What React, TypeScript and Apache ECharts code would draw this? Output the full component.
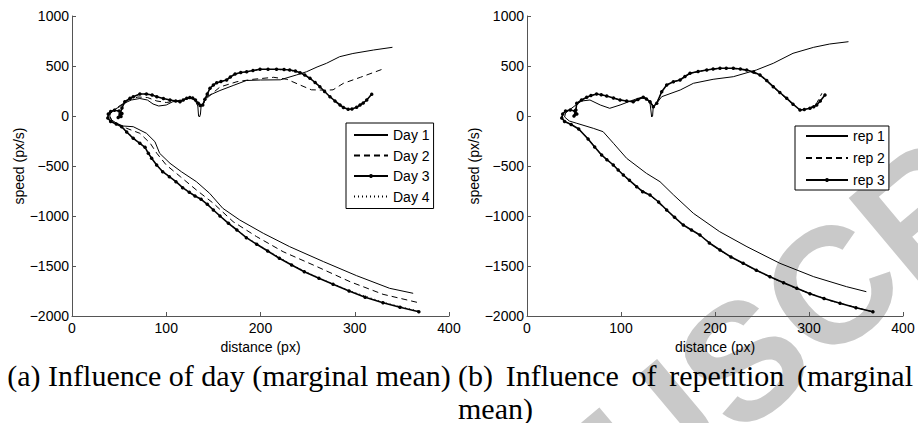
import React, { useEffect, useRef } from "react";
import * as echarts from "echarts";

// ---------- data (distance px, speed px/s) ----------
const xTicks = [0, 100, 200, 300, 400];
const yTicks = [-2000, -1500, -1000, -500, 0, 500, 1000];

const day1: number[][] = [
  [362, -1773], [337, -1723], [302, -1597], [267, -1457], [231, -1307], [203, -1173], [178, -1040],
  [160, -923], [146, -773], [132, -657], [116, -557], [104, -473], [93, -373], [88, -257], [79, -173],
  [65, -107], [54, -100], [47, -70], [42, -40], [40, 0], [41, 30], [44, 60], [50, 90], [56, 130],
  [63, 160], [72, 175], [80, 160], [86, 120], [92, 100], [100, 110], [107, 143], [115, 150], [122, 177],
  [127, 180], [131, 150], [133.5, 100], [134.3, 0], [135.3, -10], [136.3, 20], [137, 100], [139, 110],
  [141, 160], [144, 200], [157, 255], [171, 305], [185, 355], [200, 360], [221, 362], [238, 410],
  [249, 443], [260, 490], [270, 527], [284, 593], [298, 625], [320, 660], [340, 687],
];

const day2: number[][] = [
  [366, -1863], [330, -1783], [295, -1657], [260, -1507], [224, -1357], [196, -1207], [171, -1057],
  [150, -873], [132, -740], [115, -607], [100, -490], [90, -373], [83, -273], [72, -173], [58, -123],
  [48, -80], [42, -45], [40, 0], [41, 30], [45, 70], [52, 110], [60, 160], [70, 190], [80, 185],
  [90, 150], [100, 135], [110, 148], [122, 177], [127, 185], [131, 155], [134, 115], [138.7, 110],
  [141, 160], [150, 235], [157, 290], [175, 343], [192, 367], [214, 387], [228, 367], [242, 310],
  [254, 262], [270, 258], [277, 262], [288, 327], [306, 387], [330, 470],
];

const day3: number[][] = [
  [368, -1957], [348, -1913], [330, -1867], [311, -1813], [294, -1750], [277, -1683], [262, -1623],
  [246.5, -1557], [233, -1490], [220, -1423], [207.6, -1350], [196, -1283], [185, -1217], [175, -1140],
  [166, -1073], [157, -1000], [150, -940], [143.6, -883], [137, -833], [130.5, -800], [124.5, -763],
  [117.4, -717], [110.3, -657], [103.3, -607], [96.2, -557], [89.8, -490], [84.5, -423], [81, -373],
  [77.5, -313], [72, -273], [65, -223], [58, -160], [52.7, -107], [47, -80], [41, -55], [38, -20],
  [38.5, 20], [41, 45], [45, 58], [50, 50], [53, 25], [52, -5], [49, -15], [51, 20], [53, 80],
  [56, 143], [61.5, 177], [65, 193], [72, 220], [79, 220], [85, 210], [90, 193], [97, 175], [104, 160],
  [110, 150], [114.6, 143], [118, 160], [121.7, 177], [125, 185], [128, 180], [131, 160], [134, 127],
  [136, 105], [138.7, 110], [141, 167], [143.5, 220], [146.4, 277], [150, 310], [153.5, 333], [158, 345],
  [164, 360], [168, 390], [173, 420], [179, 435], [185.3, 443], [192, 455], [199.5, 467], [208, 468],
  [217, 467], [225, 465], [231, 460], [237, 450], [242, 433], [247, 410], [252.5, 377], [258, 335],
  [263, 293], [268, 245], [273.7, 193], [279, 150], [284.4, 110], [288, 85], [293, 67], [297, 70],
  [302, 87], [305.6, 110], [309, 130], [312.7, 160], [318, 217],
];

const day4: number[][] = [
  [367, -1950], [330, -1862], [294, -1745], [262, -1620], [233, -1486], [208, -1347], [185, -1214],
  [166, -1070], [150, -937], [137, -830], [124, -760], [110, -655], [96, -555], [84, -420], [77, -310],
  [65, -220], [53, -105], [41, -55], [38, -20], [39, 22], [45, 58], [50, 50], [53, 25], [51, 20],
  [56, 140], [65, 192], [72, 218], [79, 219], [90, 192], [104, 159], [114.6, 142], [121.7, 176],
  [128, 179], [134, 126], [138.7, 109], [146.4, 275], [153.5, 332], [164, 358], [173, 418], [185, 441],
  [199.5, 465], [217, 465], [231, 458], [242, 431], [252.5, 375], [263, 291], [273.7, 191], [284.4, 108],
  [293, 66], [302, 86], [312.7, 158], [317, 214],
];

const rep1: number[][] = [
  [361, -1757], [340, -1707], [305, -1607], [269, -1473], [234, -1307], [205, -1157], [177, -973],
  [156, -790], [141.5, -657], [127, -573], [106, -423], [92, -273], [81, -157], [70.5, -123], [53, -73],
  [45, -50], [40, -10], [41, 30], [45, 60], [52, 110], [58, 150], [67, 160], [78, 110], [88, 77],
  [99, 110], [113, 160], [123.7, 193], [128, 170], [131, 120], [132, 40], [132.6, -10], [133.6, 0],
  [134.2, 80], [136, 110], [139, 140], [143.3, 193], [163, 260], [177, 327], [198, 367], [219.5, 393],
  [244, 460], [262, 527], [283, 627], [305, 687], [322, 720], [342, 743],
];

const rep2: number[][] = [
  [369, -1962], [322, -1845], [287, -1727], [258.5, -1610], [230, -1477], [205, -1343], [184, -1193],
  [166, -1093], [148.6, -943], [131, -793], [116.7, -710], [102.5, -593], [92, -493], [79.4, -392],
  [72, -310], [65, -230], [55, -130], [47, -85], [40, -55], [37, -20], [38, 20], [41, 50], [46, 60],
  [51, 50], [53, 20], [50, 0], [52, 60], [53, 127], [63.5, 187], [74, 220], [85, 200], [99, 160],
  [113, 143], [123.7, 187], [131, 143], [134.4, 93], [138, 127], [143.3, 243], [148.6, 310],
  [155.7, 343], [162.8, 360], [173.4, 427], [191, 460], [205, 475], [219.5, 475], [233.7, 457],
  [248, 405], [262, 288], [276, 172], [290.4, 60], [301, 80], [308, 125], [313.7, 227],
];

const rep3: number[][] = [
  [368, -1957], [350, -1917], [333, -1872], [316, -1825], [301, -1777], [287, -1723], [273, -1667],
  [258.5, -1607], [244, -1543], [230, -1473], [217, -1410], [205.3, -1340], [194, -1270], [184, -1190],
  [175, -1140], [166.3, -1090], [157, -1013], [148.6, -940], [140, -860], [130.9, -790], [123, -757],
  [116.7, -707], [109, -643], [102.5, -590], [97, -540], [91.8, -490], [85, -437], [79.4, -390],
  [72, -310], [65, -230], [55, -130], [47, -85], [40, -55], [37, -20], [38, 20], [41, 50], [46, 60],
  [51, 50], [53, 20], [50, 0], [52, 60], [52.9, 127], [58, 160], [63.5, 187], [68, 205], [74, 220],
  [79, 212], [84.8, 200], [92, 180], [99, 160], [106, 150], [113, 143], [118, 165], [123.7, 187],
  [127, 170], [130.9, 143], [134.4, 93], [138, 127], [143.3, 243], [148.6, 310], [155.7, 343],
  [162.8, 360], [168, 395], [173.4, 427], [182, 445], [191.2, 460], [198, 470], [205.3, 477],
  [212, 478], [219.5, 477], [227, 470], [233.7, 460], [241, 440], [247.9, 410], [255, 355], [262, 293],
  [269, 235], [276.3, 177], [283, 118], [290.4, 60], [295, 65], [301, 77], [305, 92], [308.2, 110],
  [312, 150], [317, 210],
];

const dayNames = ["Day 1", "Day 2", "Day 3", "Day 4"];
const repNames = ["rep 1", "rep 2", "rep 3"];

const captionA = "(a) Influence of day (marginal mean)";
const captionBLine1 = ["(b)", "Influence", "of", "repetition", "(marginal"];
const captionBLine2 = "mean)";
const watermark = "MANUSCRIPT";

// ---------- styles ----------
const SANS = '"Liberation Sans", Arial, sans-serif';
const SERIF = '"Liberation Serif", "Times New Roman", serif';
const AXIS_COLOR = "#555";
const CAP_SIZE = 30;

function axisPair(gridIndex: number) {
  const common = {
    gridIndex,
    type: "value" as const,
    axisLine: { onZero: false, lineStyle: { color: AXIS_COLOR, width: 1 } },
    axisTick: { inside: true, length: 4, lineStyle: { color: AXIS_COLOR } },
    splitLine: { show: false },
    nameTextStyle: { fontSize: 14, color: "#000", fontFamily: SANS },
  };
  return {
    x: {
      ...common,
      min: xTicks[0],
      max: xTicks[xTicks.length - 1],
      interval: xTicks[1] - xTicks[0],
      name: "distance (px)",
      nameLocation: "middle",
      nameGap: 22,
      axisLabel: { color: "#000", fontSize: 14, fontFamily: SANS, margin: 5 },
    },
    y: {
      ...common,
      min: yTicks[0],
      max: yTicks[yTicks.length - 1],
      interval: yTicks[1] - yTicks[0],
      name: "speed (px/s)",
      nameLocation: "middle",
      nameGap: 46,
      axisLabel: {
        color: "#000",
        fontSize: 14,
        fontFamily: SANS,
        margin: 3,
        formatter: (v: number) => String(v).replace("-", "\u2212"),
      },
    },
  };
}

function measure(text: string, font: string): number {
  const c = document.createElement("canvas").getContext("2d");
  if (!c) return text.length * CAP_SIZE * 0.45;
  c.font = font;
  return c.measureText(text).width;
}

export default function App() {
  const ref = useRef<HTMLDivElement>(null);

  useEffect(() => {
    if (!ref.current) return;
    const chart = echarts.init(ref.current, undefined, { renderer: "svg" });
    const a0 = axisPair(0);
    const a1 = axisPair(1);

    const capFont = `${CAP_SIZE}px "Liberation Serif"`;
    // justified first line of caption (b)
    const bLeft = 458;
    const bRight = 913;
    const widths = captionBLine1.map((w) => measure(w, capFont));
    const total = widths.reduce((s, w) => s + w, 0);
    const gap = (bRight - bLeft - total) / (captionBLine1.length - 1);
    let cx = bLeft;
    const bWords = captionBLine1.map((w, i) => {
      const el = {
        type: "text",
        x: cx,
        y: 375,
        z: 10,
        style: { text: w, fontSize: CAP_SIZE, fontFamily: SERIF, fill: "#000", align: "left", verticalAlign: "middle" },
      };
      cx += widths[i] + gap;
      return el;
    });

    const thin = { color: "#000", width: 1 };
    const mkSeries = (name: string, data: number[][], gi: number, kind: string) => {
      const base: any = {
        name,
        type: "line",
        data,
        xAxisIndex: gi,
        yAxisIndex: gi,
        smooth: false,
        symbol: "none",
        itemStyle: { color: "#000" },
        lineStyle: { ...thin },
        emphasis: { disabled: true },
      };
      if (kind === "dashed") base.lineStyle.type = [6, 4];
      if (kind === "dotted") base.lineStyle.type = [1, 3];
      if (kind === "marker") {
        base.symbol = "circle";
        base.symbolSize = 3.5;
        base.showSymbol = true;
        base.lineStyle.width = 1.6;
      }
      return base;
    };

    const legendCommon = {
      orient: "vertical",
      selectedMode: false,
      borderColor: "#000",
      borderWidth: 1,
      backgroundColor: "#fff",
      itemHeight: 5,
      textStyle: { fontSize: 14, color: "#000", fontFamily: SANS },
    };
    const hideDot = { opacity: 0 };

    chart.setOption({
      animation: false,
      backgroundColor: "#fff",
      grid: [
        { left: 72, top: 16, width: 377, height: 300 },
        { left: 527, top: 16, width: 376, height: 300 },
      ],
      xAxis: [a0.x, a1.x],
      yAxis: [a0.y, a1.y],
      legend: [
        {
          ...legendCommon,
          left: 346,
          top: 123,
          padding: [5, 4, 5, 7],
          itemWidth: 34,
          itemGap: 6.5,
          data: [
            { name: dayNames[0], itemStyle: hideDot },
            { name: dayNames[1], itemStyle: hideDot },
            { name: dayNames[2] },
            { name: dayNames[3], itemStyle: hideDot },
          ],
        },
        {
          ...legendCommon,
          left: 795,
          top: 126,
          padding: [3, 4, 3, 10],
          itemWidth: 42,
          itemGap: 8,
          data: [
            { name: repNames[0], itemStyle: hideDot },
            { name: repNames[1], itemStyle: hideDot },
            { name: repNames[2] },
          ],
        },
      ],
      series: [
        mkSeries(dayNames[0], day1, 0, "solid"),
        mkSeries(dayNames[1], day2, 0, "dashed"),
        mkSeries(dayNames[3], day4, 0, "dotted"),
        mkSeries(dayNames[2], day3, 0, "marker"),
        mkSeries(repNames[0], rep1, 1, "solid"),
        mkSeries(repNames[1], rep2, 1, "dashed"),
        mkSeries(repNames[2], rep3, 1, "marker"),
      ],
      graphic: [
        {
          type: "text",
          x: 322,
          y: 714,
          rotation: (40 * Math.PI) / 180,
          z: -5,
          silent: true,
          style: {
            text: watermark,
            fontSize: 165,
            fontWeight: "bold",
            fontFamily: SANS,
            fill: "#c9c9c9",
            align: "left",
            verticalAlign: "middle",
          },
        },
        {
          type: "text",
          x: 229,
          y: 375,
          z: 10,
          style: { text: captionA, fontSize: CAP_SIZE, fontFamily: SERIF, fill: "#000", align: "center", verticalAlign: "middle" },
        },
        ...bWords,
        {
          type: "text",
          x: bLeft,
          y: 408,
          z: 10,
          style: { text: captionBLine2, fontSize: CAP_SIZE, fontFamily: SERIF, fill: "#000", align: "left", verticalAlign: "middle" },
        },
      ],
    });
    return () => chart.dispose();
  }, []);

  return (
    <div
      ref={ref}
      style={{ position: "absolute", left: 0, top: 0, width: 918, height: 423 }}
    />
  );
}
